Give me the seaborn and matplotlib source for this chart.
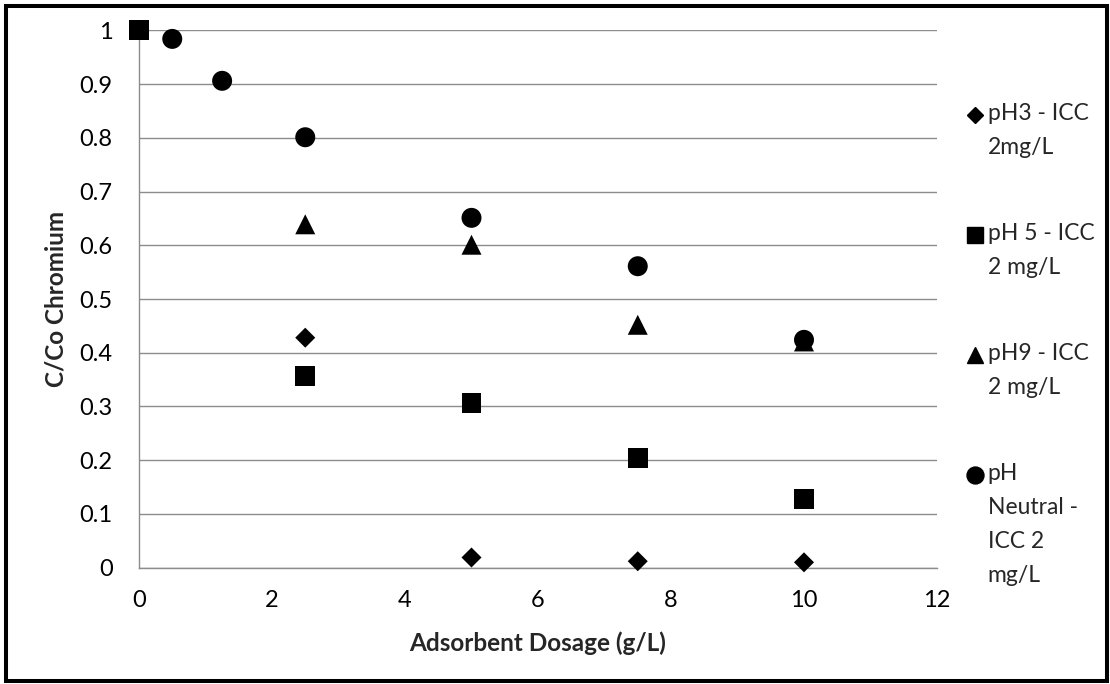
import matplotlib
matplotlib.use("Agg")
import matplotlib.pyplot as plt
import pandas as pd
import seaborn as sns
from matplotlib.lines import Line2D
from matplotlib.patches import Rectangle

# Adsorbent dosage (g/L) and residual chromium fraction C/Co for each run
dosage_ph3 = [2.5, 5, 7.5, 10]
cc_ph3 = [0.428, 0.019, 0.012, 0.010]

dosage_ph5 = [0, 2.5, 5, 7.5, 10]
cc_ph5 = [1.0, 0.356, 0.306, 0.204, 0.127]

dosage_ph9 = [2.5, 5, 7.5, 10]
cc_ph9 = [0.639, 0.601, 0.452, 0.421]

dosage_neutral = [0.5, 1.25, 2.5, 5, 7.5, 10]
cc_neutral = [0.984, 0.906, 0.801, 0.651, 0.561, 0.424]

series_labels = [
    "pH3 - ICC\n2mg/L",
    "pH 5 - ICC\n2 mg/L",
    "pH9 - ICC\n2 mg/L",
    "pH\nNeutral -\nICC 2\nmg/L",
]
x_ticks = [0, 2, 4, 6, 8, 10, 12]
y_ticks = [0, 0.1, 0.2, 0.3, 0.4, 0.5, 0.6, 0.7, 0.8, 0.9, 1]
y_tick_labels = ["0", "0.1", "0.2", "0.3", "0.4", "0.5", "0.6", "0.7", "0.8", "0.9", "1"]

frames = []
for lab, xs, ys in zip(series_labels,
                       [dosage_ph3, dosage_ph5, dosage_ph9, dosage_neutral],
                       [cc_ph3, cc_ph5, cc_ph9, cc_neutral]):
    frames.append(pd.DataFrame({"dosage": xs, "cc": ys, "series": lab}))
df = pd.concat(frames, ignore_index=True)

markers = dict(zip(series_labels, ["D", "s", "^", "o"]))
sizes = dict(zip(series_labels, [104, 207, 207, 207]))
palette = dict(zip(series_labels, ["black"] * 4))

sns.set_style("white")
FONT = ["Lato", "DejaVu Sans"]
plt.rcParams["font.family"] = FONT

W, H = 1110, 684
fig = plt.figure(figsize=(W / 100, H / 100), dpi=100)
ax_left, ax_right, ax_top, ax_bottom = 139, 937, 30.3, 567.7
ax = fig.add_axes([ax_left / W, 1 - ax_bottom / H,
                   (ax_right - ax_left) / W, (ax_bottom - ax_top) / H])

sns.scatterplot(data=df, x="dosage", y="cc", hue="series", style="series",
                size="series", markers=markers, sizes=sizes, palette=palette,
                linewidth=0, legend=False, ax=ax, zorder=3)
for coll in ax.collections:
    coll.set_clip_on(False)

grid_color = "#8c8c8c"
ax.set_xlim(0, 12)
ax.set_ylim(0, 1)
ax.set_xticks(x_ticks)
ax.set_xticklabels([str(t) for t in x_ticks])
ax.set_yticks(y_ticks)
ax.set_yticklabels(y_tick_labels)
ax.yaxis.grid(True, color=grid_color, linewidth=1.0)
ax.xaxis.grid(False)
ax.set_axisbelow(True)
for side in ("top", "right"):
    ax.spines[side].set_visible(False)
for side in ("left", "bottom"):
    ax.spines[side].set_color(grid_color)
    ax.spines[side].set_linewidth(1.0)
ax.tick_params(axis="both", length=0, labelsize=17, colors="black")
ax.tick_params(axis="y", pad=19)
ax.tick_params(axis="x", pad=16)

ax.set_xlabel("Adsorbent Dosage (g/L)", fontsize=17.5, fontweight="bold")
ax.set_ylabel("C/Co Chromium", fontsize=17.5, fontweight="bold")
ax.xaxis.set_label_coords(0.5, (ax_bottom - 643) / (ax_bottom - ax_top))
ax.xaxis.label.set_verticalalignment("center")
ax.yaxis.set_label_coords((56 - ax_left) / (ax_right - ax_left), 0.5)
ax.yaxis.label.set_verticalalignment("center")

# Legend: marker beside the first line of each wrapped label
handles = [Line2D([], [], marker=m, color="black", linestyle="none",
                  markersize=ms)
           for m, ms in zip(["D", "s", "^", "o"], [8.2, 12.2, 12.2, 12.2])]
leg = ax.legend(handles, series_labels, loc="upper left",
                bbox_to_anchor=(965.8 / W, 1 - 103.5 / H),
                bbox_transform=fig.transFigure, frameon=False,
                fontsize=16.5, handlelength=0.8, handletextpad=0.15,
                labelspacing=2.84, borderpad=0, borderaxespad=0)
line_step_pt = 33 / 1.389
for txt in leg.get_texts():
    txt.set_linespacing(1.755)
for h, lab in zip(leg.legend_handles, series_labels):
    n = lab.count("\n") + 1
    h.set_ydata([y + (n - 1) / 2 * line_step_pt for y in h.get_ydata()])

# Chart border
fig.add_artist(Rectangle((6 / W, 1 - 681 / H), (1107 - 6) / W, (681 - 5.5) / H,
                         transform=fig.transFigure, fill=False,
                         edgecolor="black", linewidth=2.9))

fig.savefig("out.png", dpi=100)
